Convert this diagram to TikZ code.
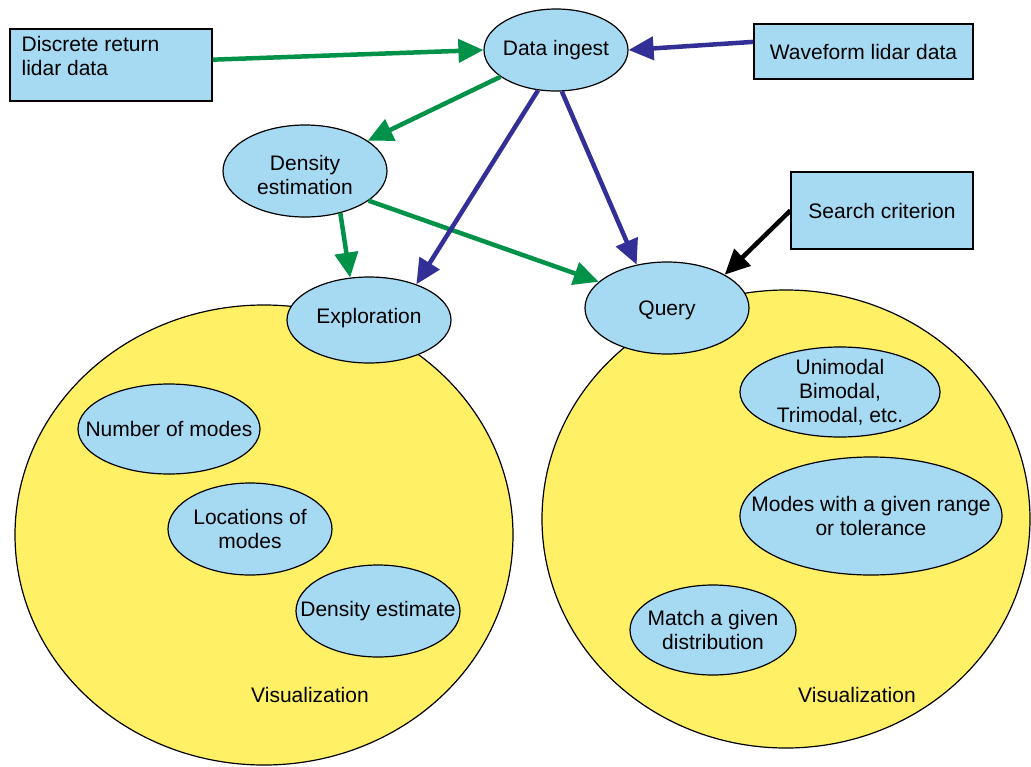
\documentclass[tikz,border=0pt]{standalone}
\usepackage{fontspec}
\setmainfont{Liberation Sans}
\usetikzlibrary{shapes.geometric,arrows.meta}
\definecolor{bubblefill}{RGB}{166,218,242}
\definecolor{vizfill}{RGB}{255,240,102}
\definecolor{arrgreen}{RGB}{0,146,72}
\definecolor{arrblue}{RGB}{50,48,150}
\tikzset{
  bubble/.style={ellipse,draw,fill=bubblefill,line width=1.2pt,inner sep=0pt},
  databox/.style={rectangle,draw,fill=bubblefill,line width=1.2pt,inner sep=0pt},
  vizarea/.style={ellipse,draw,fill=vizfill,line width=1.2pt,inner sep=0pt},
  lbl/.style={align=center,inner sep=0pt,font=\fontsize{21pt}{24pt}\selectfont},
  flow/.style={line width=4.5pt,-{Triangle[length=25pt,width=23pt]}},
  greenarr/.style={flow,draw=arrgreen},
  bluearr/.style={flow,draw=arrblue},
  blackarr/.style={flow,draw=black}
}
\begin{document}
\begin{tikzpicture}[x=1pt,y=-1pt]
        \useasboundingbox (0,0) rectangle (1031,766);
        \node[vizarea,minimum width=498pt,minimum height=460pt] (vizl) at (264,535) {};
        \node[vizarea,minimum width=488pt,minimum height=458pt] (vizr) at (786,519) {};
        \node[lbl] (vizltxt) at (310,695) {Visualization};
        \node[lbl] (vizrtxt) at (857,695) {Visualization};
        \node[databox,minimum width=202pt,minimum height=72pt] (disc) at (111,65) {};
        \node[lbl,anchor=north west,align=left] (disctxt) at ([shift={(12pt,-8pt)}]disc.north west) {Discrete return\\lidar data};
        \node[databox,minimum width=219pt,minimum height=55pt] (wave) at (863.5,51.5) {};
        \node[lbl] (wavetxt) at (wave) {Waveform lidar data};
        \node[databox,minimum width=182pt,minimum height=77pt] (search) at (882,210.5) {};
        \node[lbl] (searchtxt) at (search) {Search criterion};
        \node[bubble,minimum width=144pt,minimum height=82pt] (ingest) at (556,50) {};
        \node[lbl] (ingesttxt) at (ingest) {Data ingest};
        \node[bubble,minimum width=164pt,minimum height=92pt] (dens) at (305,171) {};
        \node[lbl] (denstxt) at (305,175) {Density\\estimation};
        \node[bubble,minimum width=164pt,minimum height=86pt] (expl) at (369,320) {};
        \node[lbl] (expltxt) at (369,318) {Exploration};
        \node[bubble,minimum width=164pt,minimum height=92pt] (query) at (667,308) {};
        \node[lbl] (querytxt) at (667,310) {Query};
        \node[bubble,minimum width=182pt,minimum height=90pt] (nmodes) at (169,429) {};
        \node[lbl] (nmodestxt) at (nmodes) {Number of modes};
        \node[bubble,minimum width=164pt,minimum height=92pt] (locs) at (250,529) {};
        \node[lbl] (locstxt) at (locs) {Locations of\\modes};
        \node[bubble,minimum width=164pt,minimum height=92pt] (destim) at (378,611) {};
        \node[lbl] (destimtxt) at (destim) {Density estimate};
        \node[bubble,minimum width=200pt,minimum height=90pt] (unimod) at (840,392) {};
        \node[lbl] (unimodtxt) at (unimod) {Unimodal\\Bimodal,\\Trimodal, etc.};
        \node[bubble,minimum width=262pt,minimum height=118pt] (range) at (871,516) {};
        \node[lbl] (rangetxt) at (range) {Modes with a given range\\or tolerance};
        \node[bubble,minimum width=166pt,minimum height=90pt] (match) at (713,630) {};
        \node[lbl] (matchtxt) at (match) {Match a given\\distribution};
        \draw[greenarr] (disc.3) -- (ingest.west);
        \draw[greenarr] (ingest) -- (dens);
        \draw[greenarr] (dens.-50) -- (expl.114);
        \draw[greenarr] (dens.-25) -- (query.159);
        \draw[bluearr] (wave.175) -- (ingest.east);
        \draw[bluearr] (ingest.246) -- (expl.37);
        \draw[bluearr] (ingest.-82) -- (query.125);
        \draw[blackarr] (search.west) -- (query.30);
      \end{tikzpicture}
\end{document}
